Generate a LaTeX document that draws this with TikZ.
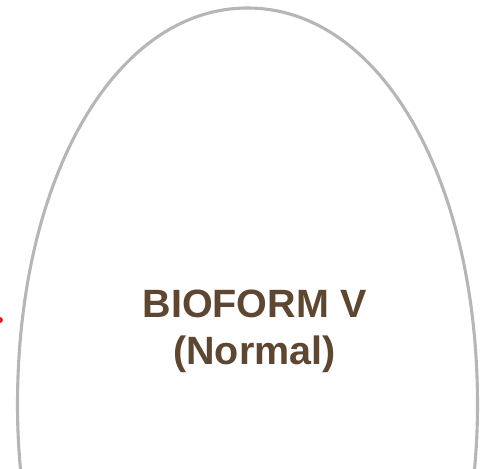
\documentclass[tikz,border=0pt]{standalone}
\usepackage{fontspec}
\setmainfont{Liberation Sans}
\usetikzlibrary{positioning}
\definecolor{brun}{HTML}{5D4632}
\definecolor{grisarc}{HTML}{B6B6B6}
\definecolor{rouge}{HTML}{E8202A}

\begin{document}
\begin{tikzpicture}[x=1pt,y=-1pt,
  arc/.style={draw=grisarc,line width=3.1pt},
  titre/.style={font=\fontsize{39.5}{47}\selectfont\bfseries,text=brun,align=center}]
  \useasboundingbox (0,0) rectangle (488,469);
  \begin{scope}
    \clip (0,0) rectangle (488,469);
    % Bioforme
    \draw[arc] (247.5,802) .. controls (120,802) and (17.5,624) .. (17.5,405)
      .. controls (17.5,177) and (115.5,8) .. (247.5,8)
      .. controls (379.5,8) and (477.5,177) .. (477.5,405)
      .. controls (477.5,624) and (375,802) .. (247.5,802);
    % Repere rouge
    \fill[rouge] (0,320) circle [radius=3];
  \end{scope}
  \node[titre] (bio) at (254.5,331) {BIOFORM V\\(Normal)};
\end{tikzpicture}
\end{document}
